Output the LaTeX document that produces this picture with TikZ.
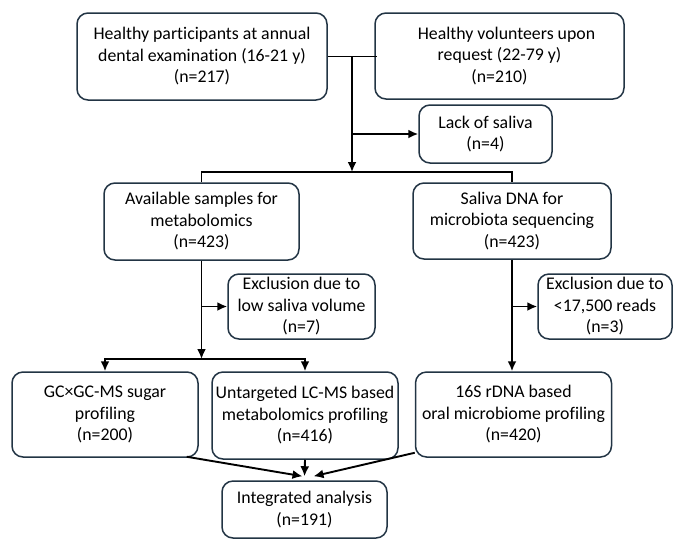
\documentclass[tikz,border=0pt]{standalone}
\usepackage{fontspec}
\setmainfont{Carlito}[Ligatures=NoCommon]
\usepackage{xcolor}
\usetikzlibrary{arrows.meta}
\definecolor{boxline}{RGB}{34,52,68}

\tikzset{
    flowbox/.style={draw=boxline, line width=1.5pt, rounded corners=11pt,
        align=center, inner sep=1pt, font=\fontsize{17.8}{21.5}\selectfont},
    link/.style={line width=1.9pt, -{Latex[length=10pt,width=9pt]}},
    plain/.style={line width=1.9pt}
}

\begin{document}
\begin{tikzpicture}[x=1pt, y=-1pt]
    \useasboundingbox (0,0) rectangle (676,539);

    % recruitment
    \node[flowbox, minimum width=250pt, minimum height=87pt] (annual) at (202,56.5)
        {Healthy participants at annual\\dental examination (16-21 y)\\(n=217)};
    \node[flowbox, minimum width=249pt, minimum height=86pt] (volunteer) at (499.5,56)
        {\hspace*{14pt}Healthy volunteers upon\\request (22-79 y)\\(n=210)};
    \node[flowbox, minimum width=133pt, minimum height=58pt] (nosaliva) at (485.5,134)
        {Lack of saliva\\(n=4)};

    % sample split
    \node[flowbox, minimum width=195pt, minimum height=77pt] (metab) at (201.5,221.5)
        {Available samples for\\metabolomics\\(n=423)};
    \node[flowbox, minimum width=198pt, minimum height=76pt] (dna) at (512,221)
        {Saliva DNA for\\microbiota sequencing\\(n=423)};
    \node[flowbox, minimum width=147pt, minimum height=65pt] (lowvol) at (301.5,306.5)
        {Exclusion due to\\low saliva volume\\(n=7)};
    \node[flowbox, minimum width=134pt, minimum height=65pt] (lowreads) at (605,306.5)
        {Exclusion due to\\<17,500 reads\\(n=3)};

    % profiling
    \node[flowbox, minimum width=186pt, minimum height=85pt] (sugar) at (105,414.5)
        {GC×GC-MS sugar\\profiling\\(n=200)};
    \node[flowbox, minimum width=186pt, minimum height=87pt] (lcms) at (305,415.5)
        {Untargeted LC-MS based\\metabolomics profiling\\(n=416)};
    \node[flowbox, minimum width=196pt, minimum height=85pt] (rdna) at (513.5,414.5)
        {16S rDNA based\\oral microbiome profiling\\(n=420)};
    \node[flowbox, minimum width=165pt, minimum height=57pt] (integ) at (304.5,509.5)
        {Integrated analysis\\(n=191)};

    \coordinate (merge) at (352,172);
    \coordinate (branch) at (201.5,359);

    % connectors
    \draw[plain] (annual.east) -- ([xshift=3pt]annual.east -| volunteer.west);
    \draw[link] (annual.east -| merge) -- (merge);
    \draw[link] (merge |- nosaliva.west) -- (nosaliva.west);
    \draw[plain] (metab.north) |- (merge) -| (dna.north);
    \draw[link] (metab.south) -- (branch);
    \draw[link] (metab.south |- lowvol.west) -- (lowvol.west);
    \draw[line width=1.9pt, {Latex[length=10pt,width=9pt]}-{Latex[length=10pt,width=9pt]}]
        (sugar.north) |- (branch) -| (lcms.north);
    \draw[link] (dna.south) -- (dna.south |- rdna.north);
    \draw[link] (dna.south |- lowreads.west) -- (lowreads.west);
    \draw[link] ([xshift=-12pt,yshift=1pt]sugar.south east) -- ([xshift=-2pt,yshift=4pt]integ.north);
    \draw[link] (lcms.south) -- ([yshift=4pt]integ.north);
    \draw[link] ([yshift=5pt]rdna.south west) -- ([xshift=9pt,yshift=4pt]integ.north);
\end{tikzpicture}
\end{document}
